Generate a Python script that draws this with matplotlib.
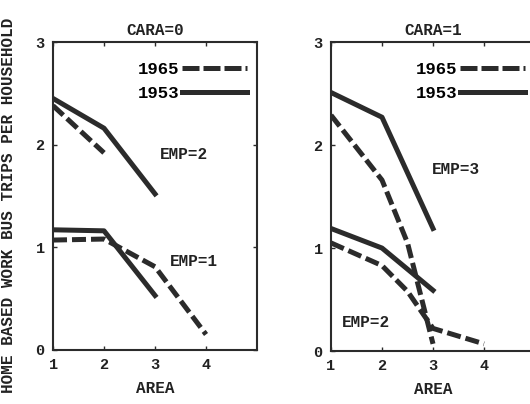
import matplotlib
matplotlib.use("Agg")
import matplotlib.pyplot as plt
from matplotlib.lines import Line2D

# ---- data ----
area = [1, 2, 3, 4]
# CARA=0
c0_emp2_1953 = [2.45, 2.16, 1.52]
c0_emp2_1965 = [2.38, 1.92]
c0_emp1_1953 = [1.17, 1.16, 0.53]
c0_emp1_1965 = [1.07, 1.08, 0.81, 0.15]
# CARA=1
c1_emp3_1953 = [2.51, 2.27, 1.19]
c1_emp3_1965_x = [1, 2, 2.5, 3]
c1_emp3_1965 = [2.29, 1.66, 1.05, 0.07]
c1_emp2_1953 = [1.19, 1.00, 0.59]
c1_emp2_1965_x = [1, 2, 2.5, 3, 4]
c1_emp2_1965 = [1.05, 0.83, 0.58, 0.22, 0.07]

titles = ["CARA=0", "CARA=1"]
years = ["1965", "1953"]
ylabel = "HOME BASED WORK BUS TRIPS PER HOUSEHOLD"
xlabel = "AREA"

FONT = "Liberation Mono"
plt.rcParams['font.family'] = [FONT, 'DejaVu Sans']
plt.rcParams['font.weight'] = 'bold'
COL = "#2b2b2b"
TXT = "#222222"
LW = 3.6
DASH = (2.8, 1.0)

fig = plt.figure(figsize=(5.30, 4.04), dpi=100)
ax0 = fig.add_axes([0.100, 0.134, 0.385, 0.762])
ax1 = fig.add_axes([0.6245, 0.131, 0.385, 0.765])

def style(ax, title):
    ax.set_xlim(1, 5)
    ax.set_ylim(0, 3)
    ax.set_xticks([1, 2, 3, 4])
    ax.set_yticks([0, 1, 2, 3])
    ax.tick_params(direction='in', length=3, width=1, top=True, right=True,
                   labelsize=11, pad=6, colors=COL, labelcolor=TXT)
    for s in ax.spines.values():
        s.set_linewidth(1.5)
        s.set_color(COL)
    ax.set_title(title, fontsize=11.5, pad=5, color=TXT, fontweight='bold')
    ax.set_xlabel(xlabel, fontsize=11.5, labelpad=6, color=TXT, fontweight='bold')

def legend(ax):
    h = [Line2D([], [], color=COL, lw=LW, dashes=(3.4, 0.8), solid_capstyle='butt', dash_capstyle='butt'),
         Line2D([], [], color=COL, lw=LW)]
    ax.legend(h, years, loc='upper right', bbox_to_anchor=(1.0, 0.97), frameon=False,
              markerfirst=False, handlelength=3.7, handletextpad=0.2,
              labelspacing=0.5, borderaxespad=0.2,
              prop={'family': FONT, 'weight': 'bold', 'size': 12.5})

# CARA=0
style(ax0, titles[0])
ax0.plot(area[:3], c0_emp2_1953, color=COL, lw=LW)
ax0.plot(area[:2], c0_emp2_1965, color=COL, lw=LW, dashes=DASH)
ax0.plot(area[:3], c0_emp1_1953, color=COL, lw=LW)
ax0.plot(area, c0_emp1_1965, color=COL, lw=LW, dashes=DASH)
ax0.text(3.1, 1.9, "EMP=2", fontsize=11.5, color=TXT, va='center')
ax0.text(3.29, 0.86, "EMP=1", fontsize=11.5, color=TXT, va='center')
legend(ax0)
ax0.set_ylabel(ylabel, fontsize=11.5, color=TXT, fontweight='bold')
ax0.yaxis.set_label_coords(-0.18, 0.47)

# CARA=1
style(ax1, titles[1])
ax1.plot(area[:3], c1_emp3_1953, color=COL, lw=LW)
ax1.plot(c1_emp3_1965_x, c1_emp3_1965, color=COL, lw=LW, dashes=DASH)
ax1.plot(area[:3], c1_emp2_1953, color=COL, lw=LW)
ax1.plot(c1_emp2_1965_x, c1_emp2_1965, color=COL, lw=LW, dashes=DASH)
ax1.text(2.98, 1.76, "EMP=3", fontsize=11.5, color=TXT, va='center')
ax1.text(1.22, 0.28, "EMP=2", fontsize=11.5, color=TXT, va='center')
legend(ax1)

fig.savefig("out.png", dpi=100)
